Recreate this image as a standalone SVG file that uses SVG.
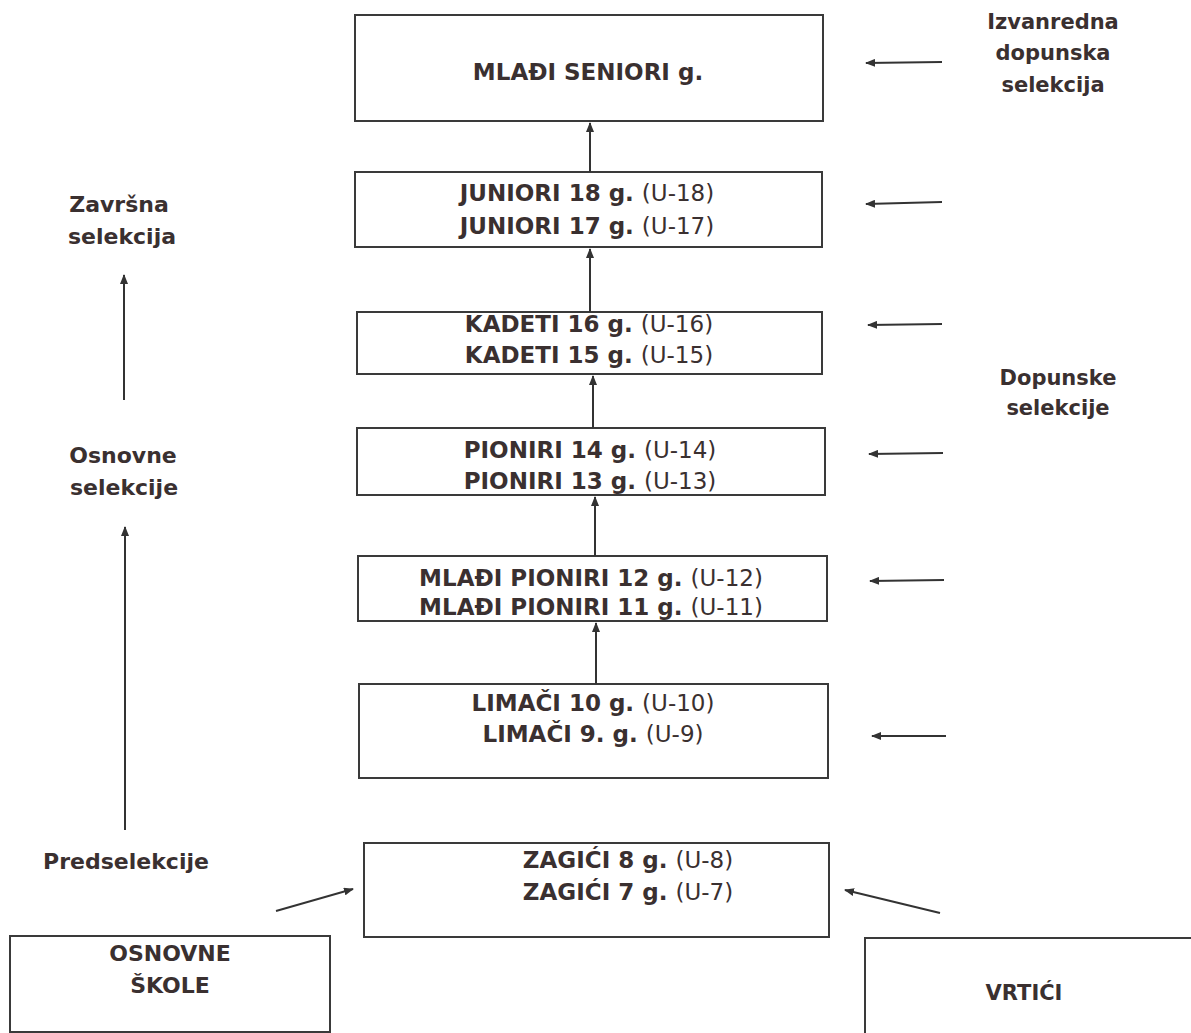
<svg xmlns="http://www.w3.org/2000/svg" width="1191" height="1033" viewBox="0 0 1191 1033">
<defs>
<marker id="ah" markerWidth="10" markerHeight="8" refX="9" refY="4" orient="auto" markerUnits="userSpaceOnUse">
<path d="M0,0 L10,4 L0,8 Z" fill="#333"/>
</marker>
<style>
.box{fill:#fff;stroke:#3a3a3a;stroke-width:2}
.t{font-family:"DejaVu Sans",Verdana,sans-serif;font-weight:bold;font-size:23px;fill:#3a3030;text-anchor:middle}
.l{font-size:22px}
.r{font-size:21px}
.n{font-weight:normal}
.c{stroke:#333;stroke-width:2;fill:none;marker-end:url(#ah)}
</style>
</defs>
<rect width="1191" height="1033" fill="#fff"/>
<g id="mladi-seniori"><rect class="box" x="355" y="15" width="468" height="106"/><text class="t" x="588" y="80">MLAĐI SENIORI g.</text></g>
<g id="juniori"><rect class="box" x="355" y="172" width="467" height="75"/><text class="t" x="587" y="201">JUNIORI 18 g. <tspan class="n">(U-18)</tspan></text><text class="t" x="587" y="234">JUNIORI 17 g. <tspan class="n">(U-17)</tspan></text></g>
<g id="kadeti"><rect class="box" x="357" y="312" width="465" height="62"/><text class="t" x="589" y="332">KADETI 16 g. <tspan class="n">(U-16)</tspan></text><text class="t" x="589" y="363">KADETI 15 g. <tspan class="n">(U-15)</tspan></text></g>
<g id="pioniri"><rect class="box" x="357" y="428" width="468" height="67"/><text class="t" x="590" y="458">PIONIRI 14 g. <tspan class="n">(U-14)</tspan></text><text class="t" x="590" y="489">PIONIRI 13 g. <tspan class="n">(U-13)</tspan></text></g>
<g id="mladi-pioniri"><rect class="box" x="358" y="556" width="469" height="65"/><text class="t" x="591" y="586">MLAĐI PIONIRI 12 g. <tspan class="n">(U-12)</tspan></text><text class="t" x="591" y="615">MLAĐI PIONIRI 11 g. <tspan class="n">(U-11)</tspan></text></g>
<g id="limaci"><rect class="box" x="359" y="684" width="469" height="94"/><text class="t" x="593" y="711">LIMAČI 10 g. <tspan class="n">(U-10)</tspan></text><text class="t" x="593" y="742">LIMAČI 9. g. <tspan class="n">(U-9)</tspan></text></g>
<g id="zagici"><rect class="box" x="364" y="843" width="465" height="94"/><text class="t" x="628" y="868">ZAGIĆI 8 g. <tspan class="n">(U-8)</tspan></text><text class="t" x="628" y="900">ZAGIĆI 7 g. <tspan class="n">(U-7)</tspan></text></g>
<g id="osnovne-skole"><rect class="box" x="10" y="936" width="320" height="96"/><text class="t l" x="170" y="961">OSNOVNE</text><text class="t l" x="170" y="993">ŠKOLE</text></g>
<g id="vrtici"><rect class="box" x="865" y="938" width="330" height="100"/><text class="t r" x="1024" y="1000">VRTIĆI</text></g>
<g id="label-zavrsna"><text class="t l" x="119" y="212">Završna</text><text class="t l" x="122" y="244">selekcija</text></g>
<g id="label-osnovne"><text class="t l" x="123" y="463">Osnovne</text><text class="t l" x="124" y="495">selekcije</text></g>
<g id="label-predselekcije"><text class="t l" x="126" y="869">Predselekcije</text></g>
<g id="label-izvanredna"><text class="t r" x="1053" y="29">Izvanredna</text><text class="t r" x="1053" y="60">dopunska</text><text class="t r" x="1053" y="92">selekcija</text></g>
<g id="label-dopunske"><text class="t r" x="1058" y="385">Dopunske</text><text class="t r" x="1058" y="415">selekcije</text></g>
<g id="connectors">
<line class="c" x1="590" y1="172" x2="590" y2="123"/>
<line class="c" x1="590" y1="312" x2="590" y2="249"/>
<line class="c" x1="593" y1="428" x2="593" y2="376"/>
<line class="c" x1="595" y1="556" x2="595" y2="497"/>
<line class="c" x1="596" y1="684" x2="596" y2="623"/>
<line class="c" x1="124" y1="400" x2="124" y2="275"/>
<line class="c" x1="125" y1="830" x2="125" y2="527"/>
<line class="c" x1="942" y1="62" x2="866" y2="63"/>
<line class="c" x1="942" y1="202" x2="866" y2="204"/>
<line class="c" x1="942" y1="324" x2="868" y2="325"/>
<line class="c" x1="943" y1="453" x2="869" y2="454"/>
<line class="c" x1="944" y1="580" x2="870" y2="581"/>
<line class="c" x1="946" y1="736" x2="872" y2="736"/>
<line class="c" x1="276" y1="911" x2="353" y2="889"/>
<line class="c" x1="940" y1="913" x2="845" y2="890"/>
</g>
</svg>
